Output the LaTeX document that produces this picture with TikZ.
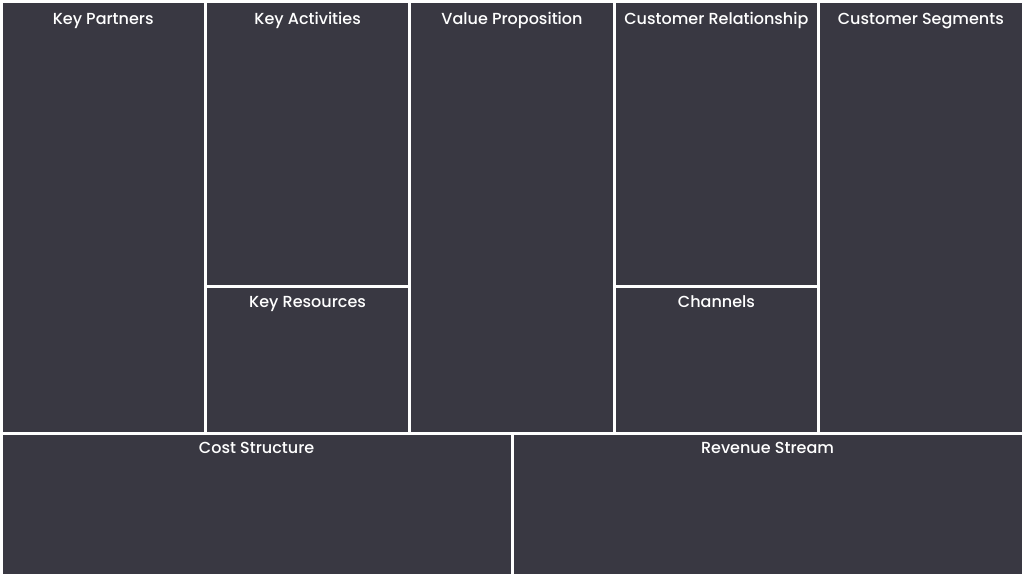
\documentclass[tikz,border=0pt]{standalone}
\usepackage{fontspec}
\setmainfont{Poppins Medium}
\definecolor{cell}{RGB}{57,56,66}
\begin{document}
\begin{tikzpicture}[x=1pt,y=-1pt,
  cellbox/.style={fill=cell},
  title/.style={text=white,anchor=base,inner sep=0pt,font=\fontsize{16}{18}\selectfont}]
\path[use as bounding box,fill=white] (0,0) rectangle (1024,576);
% cells
\fill[cellbox] (2.5,2.5) rectangle (203.9,431.5);
\fill[cellbox] (206.9,2.5) rectangle (408.3,285);
\fill[cellbox] (206.9,288) rectangle (408.3,431.5);
\fill[cellbox] (411.3,2.5) rectangle (612.7,431.5);
\fill[cellbox] (615.7,2.5) rectangle (817.1,285);
\fill[cellbox] (615.7,288) rectangle (817.1,431.5);
\fill[cellbox] (820.1,2.5) rectangle (1021.5,431.5);
\fill[cellbox] (2.5,434.5) rectangle (510.8,573.5);
\fill[cellbox] (513.6,434.5) rectangle (1021.5,573.5);
% titles
\node[title] (kp) at (103.2,24.5) {Key Partners};
\node[title] (ka) at (307.6,24.5) {Key Activities};
\node[title] (vp) at (512,24.5) {Value Proposition};
\node[title] (cr) at (716.4,24.5) {Customer Relationship};
\node[title] (cs) at (920.8,24.5) {Customer Segments};
\node[title] (kr) at (307.6,307.5) {Key Resources};
\node[title] (ch) at (716.4,307.5) {Channels};
\node[title] (cost) at (256.6,453.5) {Cost Structure};
\node[title] (rev) at (767.5,453.5) {Revenue Stream};
\end{tikzpicture}
\end{document}
